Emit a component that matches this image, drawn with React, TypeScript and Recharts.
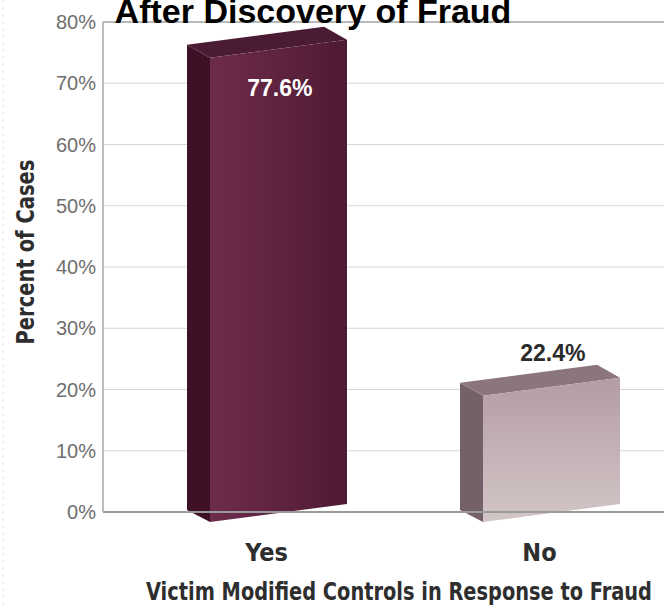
import React from "react";
import {
  BarChart,
  Bar,
  XAxis,
  YAxis,
  CartesianGrid,
  ReferenceLine,
  LabelList,
  Label,
} from "recharts";

const categories = ["Yes", "No"];
const percentOfCases = [77.6, 22.4];
const yTicks = [0, 10, 20, 30, 40, 50, 60, 70, 80];
const chartTitle = "After Discovery of Fraud";
const xTitle = "Victim Modified Controls in Response to Fraud";
const yTitle = "Percent of Cases";

// one style per category
const boxStyles = [
  { front: "url(#yesFront)", side: "#3f1126", top: "#4b1a33", label: "#ffffff" },
  { front: "url(#noFront)", side: "#736069", top: "#8b767f", label: "#2b2b2b" },
];

const data = categories.map((name, i) => ({ name, value: percentOfCases[i] }));

const condensed = "'Liberation Sans Narrow', 'DejaVu Sans Condensed', 'Arial Narrow', sans-serif";
const sans = "'Liberation Sans', Arial, Helvetica, sans-serif";

function Box3D(props: any) {
  const { x, y, width, height, index } = props;
  const s = boxStyles[index] || boxStyles[0];
  const d = (23 * width) / 160;
  const base = y + height;
  const side = `M${x},${y + 8} L${x + d},${y + 21} L${x + d},${base + 10} L${x},${base - 2} Z`;
  const top = `M${x},${y + 8} L${x + width - d},${y - 10} L${x + width},${y + 3} L${x + d},${y + 21} Z`;
  const front = `M${x + d},${y + 21} L${x + width},${y + 3} L${x + width},${base - 8} L${x + d},${base + 10} Z`;
  return (
    <g>
      <path d={side} fill={s.side} />
      <path d={top} fill={s.top} />
      <path d={front} fill={s.front} />
    </g>
  );
}

function ValueLabel(props: any) {
  const { x, y, width, value, index } = props;
  const s = boxStyles[index] || boxStyles[0];
  const inside = value > 50;
  return (
    <text
      x={x + width * 0.58}
      y={inside ? y + 59 : y - 14}
      textAnchor="middle"
      fill={s.label}
      fontFamily={sans}
      fontWeight="bold"
      fontSize={23}
    >
      {value.toFixed(1)}%
    </text>
  );
}

function CategoryTick(props: any) {
  const { x, y, payload } = props;
  return (
    <text
      x={x}
      y={y + 49}
      textAnchor="middle"
      fill="#2e2e2e"
      fontFamily={condensed}
      fontWeight="bold"
      fontSize={25}
    >
      {payload.value}
    </text>
  );
}

export default function App() {
  return (
    <div
      style={{
        position: "fixed",
        left: 0,
        top: 0,
        width: 664,
        height: 609,
        overflow: "hidden",
        background: "#ffffff",
      }}
    >
      <BarChart
        width={720}
        height={609}
        data={data}
        margin={{ top: 22, right: 17, bottom: 0, left: 0 }}
      >
        <defs>
          <linearGradient id="yesFront" x1="0" y1="0" x2="1" y2="0">
            <stop offset="0%" stopColor="#6e2c4c" />
            <stop offset="100%" stopColor="#4f1a33" />
          </linearGradient>
          <linearGradient id="noFront" x1="0" y1="0" x2="0" y2="1">
            <stop offset="0%" stopColor="#b49ca5" />
            <stop offset="100%" stopColor="#d2c6c6" />
          </linearGradient>
        </defs>
        <CartesianGrid vertical={false} stroke="#d6d6d6" />
        <XAxis
          dataKey="name"
          padding={{ left: 27, right: 27 }}
          height={97}
          tickLine={false}
          tickSize={0}
          tickMargin={0}
          axisLine={{ stroke: "#9a9a9a", strokeWidth: 2 }}
          tick={<CategoryTick />}
        >
          <Label
            content={(p: any) => (
              <text
                x={p.viewBox.x + 296}
                y={p.viewBox.y + 88}
                textAnchor="middle"
                fill="#2e2e2e"
                fontFamily={condensed}
                fontWeight="bold"
                fontSize={25}
                textLength={506}
                lengthAdjust="spacingAndGlyphs"
              >
                {xTitle}
              </text>
            )}
          />
        </XAxis>
        <XAxis
          xAxisId="bands"
          type="number"
          domain={[0, categories.length]}
          allowDataOverflow
          padding={{ left: 27, right: 27 }}
          hide
        />
        <YAxis
          width={103}
          domain={[0, 80]}
          ticks={yTicks}
          interval={0}
          tickFormatter={(v: number) => `${v}%`}
          tickLine={false}
          tickSize={0}
          tickMargin={7}
          axisLine={{ stroke: "#a8a8a8", strokeWidth: 1.5 }}
          tick={{ fill: "#6e6e6e", fontSize: 20, fontFamily: sans }}
        >
          <Label
            content={(p: any) => {
              const cx = p.viewBox.x + 34;
              const cy = p.viewBox.y + 230;
              return (
                <text
                  x={cx}
                  y={cy}
                  transform={`rotate(-90 ${cx} ${cy})`}
                  textAnchor="middle"
                  fill="#2e2e2e"
                  fontFamily={condensed}
                  fontWeight="bold"
                  fontSize={24}
                  textLength={185}
                  lengthAdjust="spacingAndGlyphs"
                >
                  {yTitle}
                </text>
              );
            }}
          />
        </YAxis>
        <ReferenceLine xAxisId="bands" x={1} stroke="#d6d6d6" />
        <ReferenceLine y={80} stroke="#a8a8a8" strokeWidth={1.5} />
        <Bar dataKey="value" barSize={160} shape={<Box3D />} isAnimationActive={false}>
          <LabelList dataKey="value" content={<ValueLabel />} />
        </Bar>
      </BarChart>
      <svg
        width={664}
        height={609}
        style={{ position: "absolute", left: 0, top: 0, pointerEvents: "none" }}
      >
        <line x1={3} y1={0} x2={3} y2={609} stroke="#e4e4e4" strokeDasharray="3 4" />
        <text
          x={313}
          y={23}
          textAnchor="middle"
          fill="#000000"
          fontFamily={sans}
          fontWeight="bold"
          fontSize={34}
        >
          {chartTitle}
        </text>
      </svg>
    </div>
  );
}
